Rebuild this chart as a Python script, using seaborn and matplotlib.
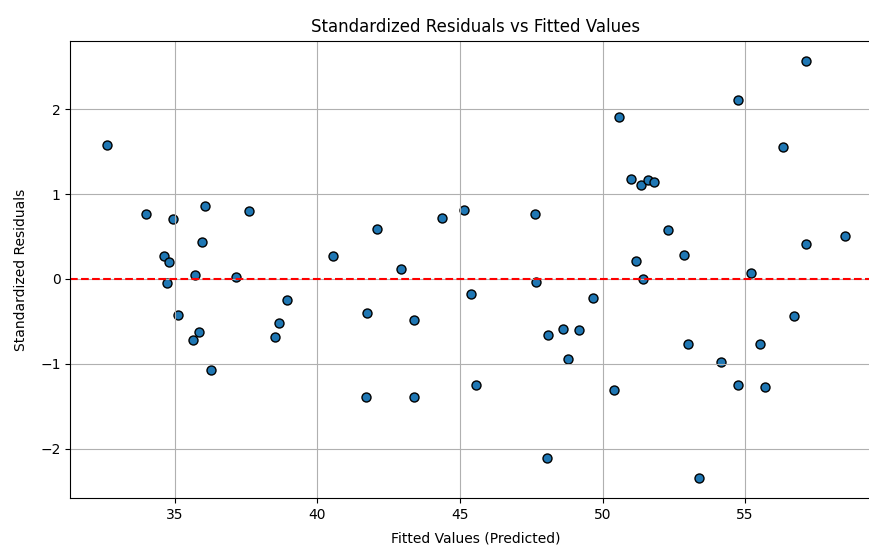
import matplotlib
matplotlib.use("Agg")
import matplotlib.pyplot as plt
import seaborn as sns
import pandas as pd

# Fitted values and their standardized residuals
fitted = [
    32.63, 34.00, 34.93, 36.07, 37.59, 35.95, 34.61, 34.80, 40.54, 35.70,
    37.14, 34.72, 38.93, 35.11, 38.67, 35.84, 35.63, 38.53, 36.28, 42.09,
    44.38, 45.13, 47.62, 42.95, 41.74, 43.40, 45.40, 47.66, 49.65, 48.09,
    48.61, 49.16, 48.80, 41.69, 43.40, 45.58, 48.05, 57.12, 54.74, 50.59,
    56.32, 51.01, 51.34, 51.61, 51.80, 52.31, 52.85, 51.19, 57.15, 58.50,
    51.42, 55.22, 56.72, 52.99, 55.53, 54.16, 54.74, 55.70, 50.39, 53.40,
]
std_resid = [
    1.576, 0.762, 0.707, 0.857, 0.800, 0.440, 0.264, 0.198, 0.264, 0.040,
    0.027, -0.044, -0.245, -0.427, -0.521, -0.632, -0.723, -0.683, -1.070, 0.589,
    0.719, 0.814, 0.762, 0.120, -0.403, -0.482, -0.174, -0.032, -0.229, -0.656,
    -0.592, -0.600, -0.948, -1.394, -1.394, -1.256, -2.117, 2.563, 2.113, 1.911,
    1.552, 1.177, 1.106, 1.165, 1.146, 0.573, 0.276, 0.213, 0.415, 0.506,
    0.000, 0.067, -0.442, -0.766, -0.766, -0.975, -1.256, -1.272, -1.311, -2.342,
]

df = pd.DataFrame({"fitted": fitted, "resid": std_resid})

fig = plt.figure(figsize=(8.7, 5.47), dpi=100)
# Axes extends slightly past the right edge of the canvas
ax = fig.add_axes([70.3 / 870, 0.089, 811.5 / 870, 0.8366])

sns.scatterplot(data=df, x="fitted", y="resid", ax=ax, color="#1f77b4",
                edgecolor="black", linewidth=1, s=42)
ax.axhline(0, color="red", linestyle="--", linewidth=1.5)

ax.set_title("Standardized Residuals vs Fitted Values", fontsize=12)
ax.set_xlabel("Fitted Values (Predicted)", labelpad=6.5)
ax.set_ylabel("Standardized Residuals", labelpad=9)
ax.grid(True)

fig.savefig("out.png", dpi=100)
